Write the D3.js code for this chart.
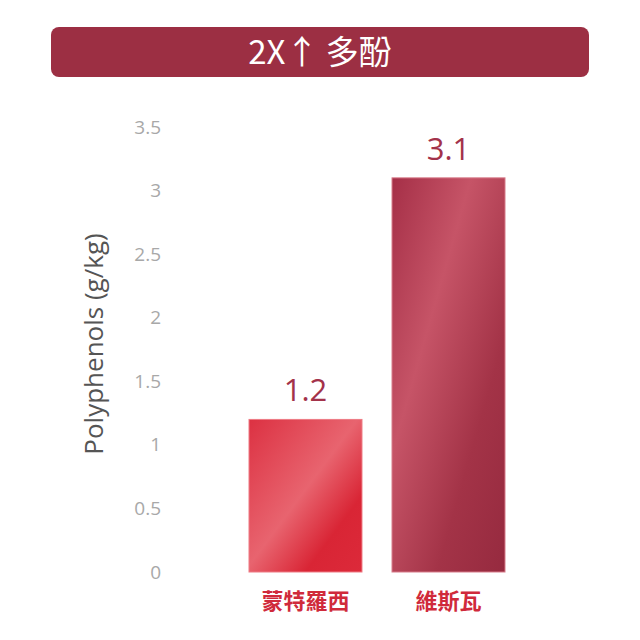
<!DOCTYPE html>
<html>
<head>
<meta charset="utf-8">
<script src="https://cdn.jsdelivr.net/npm/d3@7"></script>
<style>
  body { margin: 0; background: #fff; }
  svg { display: block; }
</style>
</head>
<body>
<svg id="chart" width="640" height="640"></svg>
<script>
// dati del grafico
const categorie = ["蒙特羅西", "維斯瓦"];
const valori = [1.2, 3.1];
const etichette = ["1.2", "3.1"];
const ticks = [0, 0.5, 1, 1.5, 2, 2.5, 3, 3.5];
const titolo = "2X\u2191 多酚";
const titoloAsse = "Polyphenols (g/kg)";

const svg = d3.select("#chart");
const fontCJK = "'Noto Sans CJK TC', 'Noto Sans', sans-serif";
const fontLat = "'Open Sans', 'Noto Sans', sans-serif";

// gradienti delle barre
const defs = svg.append("defs");
const g1 = defs.append("linearGradient").attr("id", "grad0")
  .attr("x1", "0%").attr("y1", "0%").attr("x2", "100%").attr("y2", "100%");
g1.append("stop").attr("offset", "0%").attr("stop-color", "#dc3142");
g1.append("stop").attr("offset", "48%").attr("stop-color", "#e8646f");
g1.append("stop").attr("offset", "75%").attr("stop-color", "#d92535");
g1.append("stop").attr("offset", "100%").attr("stop-color", "#dc2a3a");

const g2 = defs.append("linearGradient").attr("id", "grad1")
  .attr("x1", "0%").attr("y1", "0%").attr("x2", "100%").attr("y2", "100%");
g2.append("stop").attr("offset", "0%").attr("stop-color", "#a52f47");
g2.append("stop").attr("offset", "35%").attr("stop-color", "#c65467");
g2.append("stop").attr("offset", "70%").attr("stop-color", "#a33347");
g2.append("stop").attr("offset", "100%").attr("stop-color", "#962a3f");

// titolo
svg.append("rect")
  .attr("x", 51).attr("y", 27)
  .attr("width", 538).attr("height", 50)
  .attr("rx", 8)
  .attr("fill", "#9c2f43");

svg.append("text")
  .attr("x", 320).attr("y", 64)
  .attr("text-anchor", "middle")
  .attr("fill", "#fff")
  .style("font-family", fontCJK)
  .style("font-weight", "normal")
  .style("font-size", "33px")
  .text(titolo);

// scale
const y = d3.scaleLinear().domain([0, 3.5]).range([572, 127]);
const x = d3.scaleBand().domain(categorie).range([249, 505]).paddingInner(0.21).paddingOuter(0);

// asse y (solo etichette)
const asse = svg.append("g")
  .attr("transform", "translate(161,0)")
  .call(d3.axisLeft(y).tickValues(ticks).tickSize(0).tickPadding(0).tickFormat(d3.format("")));
asse.select(".domain").remove();
asse.selectAll("text")
  .attr("fill", "#a8a8a8")
  .style("font-family", fontLat)
  .style("font-size", "19px");

svg.append("text")
  .attr("transform", "translate(103,344) rotate(-90)")
  .attr("text-anchor", "middle")
  .attr("fill", "#555")
  .style("font-family", fontLat)
  .style("font-weight", "500")
  .style("font-size", "26px")
  .text(titoloAsse);

// barre
svg.selectAll(".bar")
  .data(valori)
  .enter().append("rect")
  .attr("class", "bar")
  .attr("x", (d, i) => x(categorie[i]))
  .attr("y", d => y(d))
  .attr("width", x.bandwidth())
  .attr("height", d => y(0) - y(d))
  .attr("fill", (d, i) => "url(#grad" + i + ")")
  .attr("stroke", (d, i) => i == 0 ? "#ee7a84" : "#d77a89")
  .attr("stroke-width", 1);

// valori sopra le barre
svg.selectAll(".val")
  .data(valori)
  .enter().append("text")
  .attr("class", "val")
  .attr("x", (d, i) => x(categorie[i]) + x.bandwidth() / 2)
  .attr("y", d => y(d) - 18)
  .attr("text-anchor", "middle")
  .attr("fill", "#a3324a")
  .style("font-family", fontLat)
  .style("font-size", "31px")
  .text((d, i) => etichette[i]);

// categorie
svg.selectAll(".cat")
  .data(categorie)
  .enter().append("text")
  .attr("class", "cat")
  .attr("x", d => x(d) + x.bandwidth() / 2)
  .attr("y", 609)
  .attr("text-anchor", "middle")
  .attr("fill", "#d02a3b")
  .style("font-family", fontCJK)
  .style("font-weight", "bold")
  .style("font-size", "22px")
  .text(d => d);
</script>
</body>
</html>
